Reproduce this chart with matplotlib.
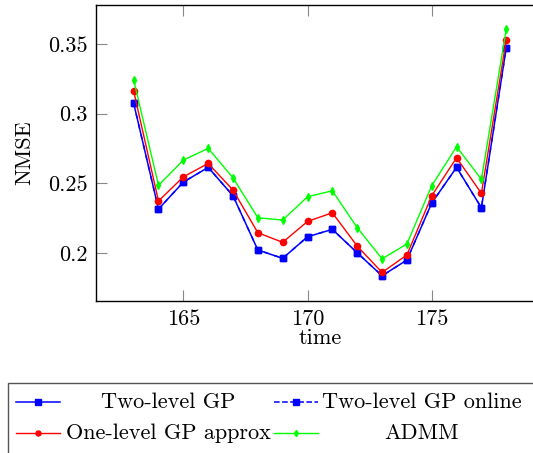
import matplotlib
matplotlib.use('Agg')
import matplotlib.pyplot as plt
from matplotlib.lines import Line2D
from matplotlib.patches import Rectangle

plt.rcParams['font.family'] = 'serif'
plt.rcParams['font.serif'] = ['cmr10', 'DejaVu Serif']
plt.rcParams['axes.formatter.use_mathtext'] = True
plt.rcParams['mathtext.fontset'] = 'cm'

# data
time = [163, 164, 165, 166, 167, 168, 169, 170, 171, 172, 173, 174, 175, 176, 177, 178]
two_level = [0.3075, 0.2316, 0.2509, 0.2615, 0.2411, 0.2022, 0.1962, 0.2117,
             0.2170, 0.2002, 0.1837, 0.1950, 0.2359, 0.2615, 0.2325, 0.3473]
two_level_online = [0.3075, 0.2316, 0.2509, 0.2615, 0.2411, 0.2022, 0.1962, 0.2117,
                    0.2170, 0.2002, 0.1837, 0.1950, 0.2359, 0.2615, 0.2325, 0.3473]
one_level = [0.3163, 0.2373, 0.2547, 0.2643, 0.2452, 0.2146, 0.2077, 0.2227,
             0.2289, 0.2050, 0.1861, 0.1986, 0.2411, 0.2684, 0.2428, 0.3529]
admm = [0.3242, 0.2486, 0.2667, 0.2751, 0.2540, 0.2253, 0.2237, 0.2404,
        0.2447, 0.2182, 0.1959, 0.2065, 0.2483, 0.2763, 0.2529, 0.3605]

W, H = 533, 453
fig = plt.figure(figsize=(W / 100, H / 100), dpi=100)
# axes runs a bit past the right edge, like the cropped original
ax = fig.add_axes([96.4 / W, 1 - 301 / H, (543.5 - 96.4) / W, (301 - 5) / H])

fs = 16
ax.plot(time, two_level, color='#0000ff', lw=1.1, marker='s', ms=5, label='Two-level GP')
ax.plot(time, two_level_online, color='#0000ff', lw=1.1, ls=(0, (3, 4)), marker='s', ms=5,
        label='Two-level GP online')
ax.plot(time, one_level, color='#ff0000', lw=1.0, marker='o', ms=4.5, label='One-level GP approx')
ax.plot(time, admm, color='#00ff00', lw=1.0, marker='d', ms=4, label='ADMM')

ax.set_xlim(161.5, 179.5)
ax.set_ylim(0.1656, 0.378)
ax.set_xticks([165, 170, 175], labels=['165', '170', '175'])
ax.set_yticks([0.2, 0.25, 0.3, 0.35], labels=['0.2', '0.25', '0.3', '0.35'])
ax.tick_params(direction='in', length=8, width=0.8, color='#888888', labelsize=fs,
               top=True, right=True, pad=6)
for s in ax.spines.values():
    s.set_linewidth(1.0)
ax.set_xlabel('time', fontsize=fs, labelpad=0)
ax.set_ylabel('NMSE', fontsize=fs, labelpad=10)

# legend box drawn by hand so the labels can be centred like pgfplots
def fx(px):
    return px / W

def fy(py):
    return 1 - py / H

fig.patches.append(Rectangle((fx(8), fy(462)), fx(545) - fx(8), fy(383) - fy(462),
                             transform=fig.transFigure, fill=False, ec='#555555', lw=1.0,
                             clip_on=False))
handles = ax.get_lines()
cells = [(16, 402, 168), (274, 402, 422), (16, 433, 168), (274, 433, 422)]
for h, (x0, y0, tc) in zip(handles, cells):
    fig.lines.append(Line2D([fx(x0), fx(x0 + 44)], [fy(y0), fy(y0)], transform=fig.transFigure,
                            color=h.get_color(), lw=h.get_linewidth(), ls=h.get_linestyle()))
    fig.lines.append(Line2D([fx(x0 + 22)], [fy(y0)], transform=fig.transFigure,
                            color=h.get_color(), marker=h.get_marker(), ms=h.get_markersize() * 0.8,
                            ls='none'))
    fig.text(fx(tc), fy(y0), h.get_label(), ha='center', va='center', fontsize=fs)

fig.savefig('out.png', dpi=100)
